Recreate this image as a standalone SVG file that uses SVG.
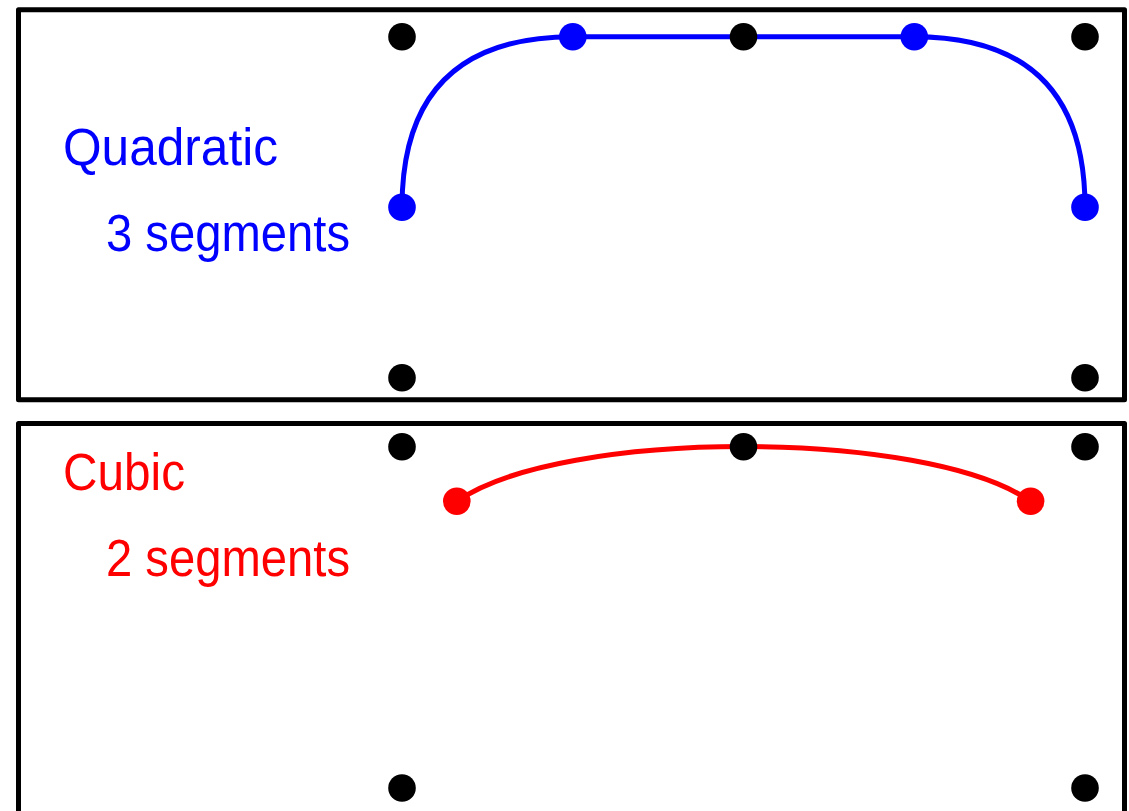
<svg xmlns="http://www.w3.org/2000/svg" width="1129" height="811" viewBox="0 0 1129 811">
<style>
.frame{fill:none;stroke:#000;stroke-width:5;stroke-linejoin:round}
.curve{fill:none;stroke-width:5;stroke-linecap:round}
.lbl{font-family:"Liberation Sans",Arial,sans-serif;font-size:51px}
.k{fill:#000}
.b{fill:#0000ff}
.r{fill:#ff0000}
</style>
<rect width="1129" height="811" fill="#fff"/>
<g id="panel-quadratic">
<rect class="frame" x="18.5" y="9.7" width="1106" height="390"/>
<text class="lbl b" x="63" y="165" textLength="215" lengthAdjust="spacingAndGlyphs">Quadratic</text>
<text class="lbl b" x="106" y="250.5" textLength="244" lengthAdjust="spacingAndGlyphs">3 segments</text>
</g>
<g id="panel-cubic">
<rect class="frame" x="18.5" y="423.5" width="1106" height="400"/>
<text class="lbl r" x="63" y="490" textLength="122" lengthAdjust="spacingAndGlyphs">Cubic</text>
<text class="lbl r" x="106" y="576" textLength="244" lengthAdjust="spacingAndGlyphs">2 segments</text>
</g>
<g id="connectors">
<path class="curve" stroke="#0000ff" d="M402,207.3 Q402,36.7 572.8,36.7 L914.3,36.7 Q1085,36.7 1085,207.3"/>
<path class="curve" stroke="#ff0000" d="M457,501.3 C509,464.8 626.3,446.6 743.5,446.6 C860.8,446.6 978.5,464.8 1030.5,501.3"/>
</g>
<g id="points-quadratic">
<circle class="k" cx="402" cy="36.7" r="13.8"/>
<circle class="k" cx="743.5" cy="36.7" r="13.8"/>
<circle class="k" cx="1085" cy="36.7" r="13.8"/>
<circle class="k" cx="402" cy="377.8" r="13.8"/>
<circle class="k" cx="1085" cy="377.8" r="13.8"/>
<circle class="b" cx="402" cy="207.3" r="13.8"/>
<circle class="b" cx="572.8" cy="36.7" r="13.8"/>
<circle class="b" cx="914.3" cy="36.7" r="13.8"/>
<circle class="b" cx="1085" cy="207.3" r="13.8"/>
</g>
<g id="points-cubic">
<circle class="k" cx="402" cy="446.7" r="13.8"/>
<circle class="k" cx="743.5" cy="446.7" r="13.8"/>
<circle class="k" cx="1085" cy="446.7" r="13.8"/>
<circle class="k" cx="402" cy="788" r="13.8"/>
<circle class="k" cx="1085" cy="788" r="13.8"/>
<circle class="r" cx="456.8" cy="501.3" r="13.8"/>
<circle class="r" cx="1030.6" cy="501.3" r="13.8"/>
</g>
</svg>
